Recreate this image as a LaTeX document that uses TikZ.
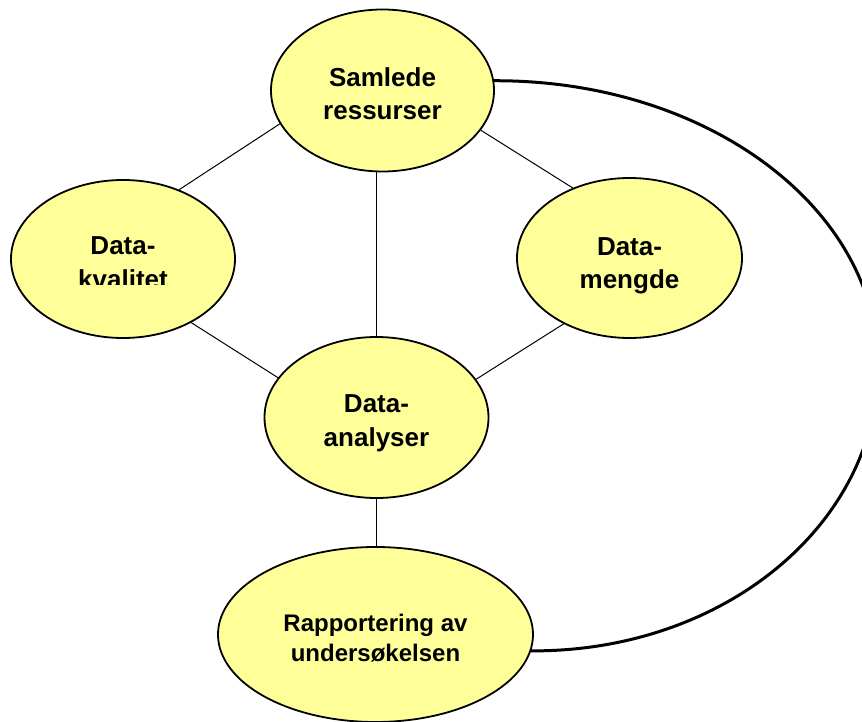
\documentclass[tikz,border=0pt]{standalone}
\usepackage{fontspec}
\setmainfont{Liberation Sans}
\usetikzlibrary{shapes.geometric,backgrounds}
\definecolor{ovalfill}{HTML}{FFFF99}
\begin{document}
\begin{tikzpicture}[x=1pt,y=-1pt,
  oval/.style={ellipse,draw=black,line width=1.8pt,fill=ovalfill,inner sep=0pt},
  lbl/.style={align=center,font=\bfseries\fontsize{26}{33.5}\selectfont,text depth=0pt,inner sep=0pt},
  smalllbl/.style={lbl,font=\bfseries\fontsize{24}{30}\selectfont},
  link/.style={draw=black,line width=1pt},
  loopline/.style={draw=black,line width=3pt}]
\useasboundingbox (0,0) rectangle (862,722);
\clip (0,0) rectangle (862,722);

% ovals
\node[oval,minimum width=223pt,minimum height=162pt] (sam) at (382.5,90.5) {};
\node[oval,minimum width=224pt,minimum height=158pt] (kval) at (123,259) {};
\node[oval,minimum width=225pt,minimum height=160pt] (meng) at (629.5,258) {};
\node[oval,minimum width=224pt,minimum height=161pt] (ana) at (376.5,417.5) {};
\node[oval,minimum width=315pt,minimum height=175pt] (rap) at (375.5,634.5) {};

% labels
\node[lbl] (samT) at ([yshift=-3pt]sam.center) {Samlede\\ressurser};
\begin{scope}
  \clip (0,0) rectangle (862,284.5);
  \node[lbl] (kvalT) at ([yshift=-3.5pt]kval.center) {Data-\\kvalitet};
\end{scope}
\node[lbl] (mengT) at ([yshift=-5pt]meng.center) {Data-\\mengde};
\node[lbl] (anaT) at ([yshift=-3pt]ana.center) {Data-\\analyser};
\node[smalllbl] (rapT) at ([yshift=-3pt]rap.center) {Rapportering av\\undersøkelsen};

% connectors
\begin{pgfonlayer}{background}
  \draw[link] (sam.198.6) -- (kval.51.6);
  \draw[link] (sam.338.3) -- (meng.129.2);
  \draw[link] (ana.north) -- (ana.north |- sam.south);
  \draw[link] (kval.317.3) -- (ana.158.2);
  \draw[link] (meng.225) -- (ana.21.1);
  \draw[link] (ana.south) -- (ana.south |- rap.north);
  \draw[loopline] (sam.5.5) .. controls (707,80) and (878,208) .. (878,366)
                  .. controls (878,524) and (724,652) .. (rap.-6.3);
\end{pgfonlayer}
\end{tikzpicture}
\end{document}
